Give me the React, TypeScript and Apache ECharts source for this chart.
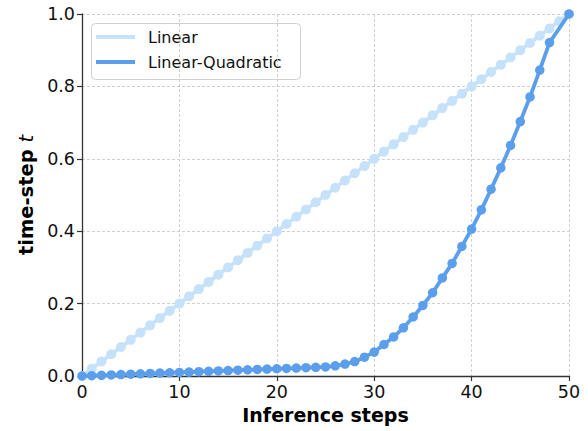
import React, { useEffect, useRef } from "react";
import * as echarts from "echarts";

const linearSteps = [0,1,2,3,4,5,6,7,8,9,10,11,12,13,14,15,16,17,18,19,20,21,22,23,24,25,26,27,28,29,30,31,32,33,34,35,36,37,38,39,40,41,42,43,44,45,46,47,48,49,50];
const linearValues = [0,0.02,0.04,0.06,0.08,0.1,0.12,0.14,0.16,0.18,0.2,0.22,0.24,0.26,0.28,0.3,0.32,0.34,0.36,0.38,0.4,0.42,0.44,0.46,0.48,0.5,0.52,0.54,0.56,0.58,0.6,0.62,0.64,0.66,0.68,0.7,0.72,0.74,0.76,0.78,0.8,0.82,0.84,0.86,0.88,0.9,0.92,0.94,0.96,0.98,1.0];

const lqSteps = [0,1,2,3,4,5,6,7,8,9,10,11,12,13,14,15,16,17,18,19,20,21,22,23,24,25,26,27,28,29,30,31,32,33,34,35,36,37,38,39,40,41,42,43,44,45,46,47,48,50];
const lqValues = [0,0.001,0.002,0.003,0.004,0.005,0.006,0.007,0.008,0.009,0.01,0.011,0.012,0.013,0.014,0.015,0.016,0.017,0.018,0.019,0.02,0.021,0.022,0.023,0.024,0.025,0.028,0.033,0.04,0.052,0.066,0.087,0.108,0.133,0.163,0.195,0.23,0.271,0.311,0.358,0.406,0.459,0.516,0.575,0.637,0.703,0.771,0.845,0.921,1.0];

const seriesNames = ["Linear", "Linear-Quadratic"];
const seriesColors = ["#c6e2fb", "#5b9fec"];

const xTicks = [0, 10, 20, 30, 40, 50];
const yTicks = [0, 0.2, 0.4, 0.6, 0.8, 1.0];

const FONT = "DejaVu Sans";

export default function App() {
  const ref = useRef<HTMLDivElement>(null);
  useEffect(() => {
    if (!ref.current) return;
    const chart = echarts.init(ref.current, null, { renderer: "svg" });
    const gridLine = { show: true, lineStyle: { color: "#c4c4c4", width: 0.8, type: [3, 2] as any } };
    const legendRowsY = [37, 62];
    chart.setOption({
      animation: false,
      backgroundColor: "#ffffff",
      textStyle: { fontFamily: FONT },
      grid: { left: 82, right: 19, top: 14, bottom: 55, containLabel: false },
      graphic: [
        {
          type: "group",
          z: 100,
          children: [
            {
              type: "rect",
              shape: { x: 91.5, y: 23.5, width: 209, height: 56, r: 4 },
              style: { fill: "#ffffff", stroke: "#d0d0d0", lineWidth: 1 },
            },
            ...seriesNames.flatMap((name, i) => [
              {
                type: "line",
                shape: { x1: 96, y1: legendRowsY[i], x2: 135, y2: legendRowsY[i] },
                style: { stroke: seriesColors[i], lineWidth: 4 },
              },
              {
                type: "text",
                x: 148,
                y: legendRowsY[i],
                style: { text: name, fontFamily: FONT, fontSize: 16, fill: "#111", verticalAlign: "middle", align: "left" },
              },
            ]),
          ],
        },
      ],
      xAxis: {
        type: "value",
        min: xTicks[0],
        max: xTicks[xTicks.length - 1],
        interval: 10,
        name: "Inference steps",
        nameLocation: "middle",
        nameGap: 26,
        nameTextStyle: { fontFamily: FONT, fontSize: 19, fontWeight: "bold", color: "#000" },
        axisLine: { show: true, onZero: false, lineStyle: { color: "#333", width: 1.3 } },
        axisTick: { show: true, length: 5, lineStyle: { color: "#333", width: 1.2 } },
        axisLabel: { fontFamily: FONT, fontSize: 17.5, color: "#111", margin: 7 },
        splitLine: gridLine,
      },
      yAxis: {
        type: "value",
        min: yTicks[0],
        max: yTicks[yTicks.length - 1],
        interval: 0.2,
        name: "{b|time-step }{i|t}",
        nameLocation: "middle",
        nameGap: 46,
        nameTextStyle: {
          rich: {
            b: { fontFamily: FONT, fontSize: 19.5, fontWeight: "bold", color: "#000" },
            i: { fontFamily: FONT, fontSize: 19.5, fontStyle: "italic", color: "#000" },
          },
        },
        axisLine: { show: true, onZero: false, lineStyle: { color: "#333", width: 1.3 } },
        axisTick: { show: true, length: 5, lineStyle: { color: "#333", width: 1.2 } },
        axisLabel: { fontFamily: FONT, fontSize: 17.5, color: "#111", margin: 7, formatter: (v: number) => v.toFixed(1) },
        splitLine: gridLine,
      },
      series: [
        {
          name: seriesNames[0],
          type: "line",
          data: linearSteps.map((s, i) => [s, linearValues[i]]),
          color: seriesColors[0],
          lineStyle: { width: 3.8, color: seriesColors[0] },
          symbol: "circle",
          symbolSize: 10,
          showSymbol: true,
          itemStyle: { color: seriesColors[0] },
          z: 2,
        },
        {
          name: seriesNames[1],
          type: "line",
          data: lqSteps.map((s, i) => [s, lqValues[i]]),
          color: seriesColors[1],
          lineStyle: { width: 3.8, color: seriesColors[1] },
          symbol: "circle",
          symbolSize: 9.5,
          showSymbol: true,
          itemStyle: { color: seriesColors[1] },
          z: 3,
        },
      ],
    });
    return () => chart.dispose();
  }, []);
  return <div ref={ref} style={{ width: 588, height: 431, position: "absolute", left: 0, top: 0 }} />;
}
